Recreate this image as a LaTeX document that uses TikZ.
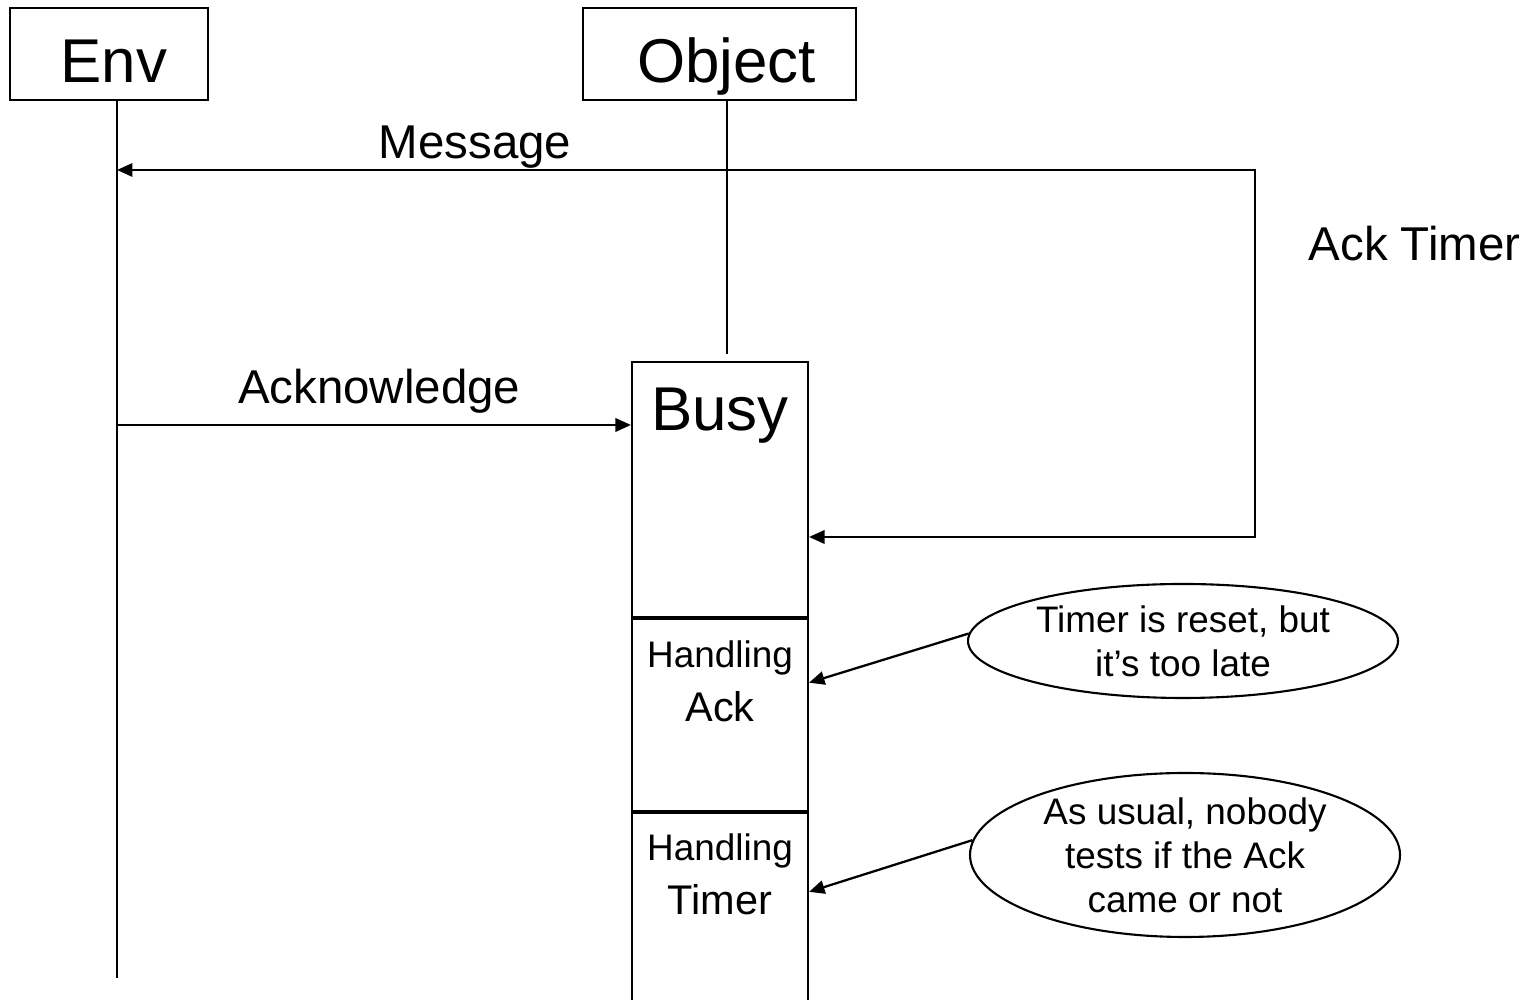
\documentclass[tikz,border=0pt]{standalone}
\usepackage{fontspec}
\setmainfont{Liberation Sans}
\usetikzlibrary{arrows.meta, shapes.geometric}

\tikzset{
  box/.style={draw, line width=0.6pt, inner sep=0pt},
  head/.style={box, minimum height=0.92cm, text height=19pt, text depth=3pt,
    font=\fontsize{17.6}{21}\selectfont},
  act/.style={box, minimum width=1.76cm},
  msg/.style={-{Triangle[length=4.4pt, width=3.8pt]}, line width=0.65pt},
  lbl/.style={font=\fontsize{13.5}{16}\selectfont, inner sep=1pt},
  note/.style={draw, ellipse, line width=0.6pt, inner sep=0pt, align=center,
    font=\fontsize{10.5}{12.5}\selectfont},
}

\begin{document}
\begin{tikzpicture}
  \useasboundingbox (0,0) rectangle (15.31,10);

  % lifeline heads
  \node[head, minimum width=1.98cm] (env) at (1.09,9.46) {\hspace{0.1cm}Env};
  \node[head, minimum width=2.73cm] (obj) at (7.195,9.46) {\hspace{0.14cm}Object};

  \coordinate (envend) at (1.17,0.22);
  \coordinate (objline) at (7.27,6.46);
  \draw[line width=0.85pt] (env.south -| envend) -- (envend);
  \draw[line width=0.6pt] (obj.south -| objline) -- (objline);

  % activation of the object
  \node[act, minimum height=2.55cm] (busy) at (7.20,5.105) {};
  \node[act, minimum height=1.92cm, anchor=north] (hack) at (busy.south) {};
  \node[act, minimum height=2.05cm, anchor=north] (htimer) at (hack.south) {};

  \node[font=\fontsize{17.6}{21}\selectfont] (busylbl) at ([yshift=-0.55cm]busy.north) {Busy};
  \node[font=\fontsize{10.5}{12.5}\selectfont] (hack1) at ([yshift=-0.40cm]hack.north) {Handling};
  \node[font=\fontsize{11.8}{14}\selectfont] (hack2) at ([yshift=-0.89cm]hack.north) {Ack};
  \node[font=\fontsize{10.5}{12.5}\selectfont] (htimer1) at ([yshift=-0.39cm]htimer.north) {Handling};
  \node[font=\fontsize{11.8}{14}\selectfont] (htimer2) at ([yshift=-0.88cm]htimer.north) {Timer};

  % messages
  \coordinate (msgy) at (1.17,8.30);
  \coordinate (acky) at (1.17,5.75);
  \coordinate (turn) at (12.55,8.30);
  \coordinate (back) at (12.55,4.63);

  \draw[msg] (objline |- msgy) -- (msgy) node[lbl, pos=0.413, above=-0.8pt] {Message};
  \draw[msg] (acky) -- (acky -| busy.west) node[lbl, pos=0.51, above=2pt] {Acknowledge};
  \draw[msg] (objline |- turn) -- (turn) -- (back)
    node[lbl, pos=0.2, right=0.49cm] {Ack Timer} -- (back -| busy.east);

  % comments
  \node[note, minimum width=4.3cm, minimum height=1.14cm] (late) at (11.83,3.59)
    {Timer is reset, but\\it's too late};
  \node[note, minimum width=4.3cm, minimum height=1.64cm, inner ysep=-2pt] (usual) at (11.85,1.45)
    {As usual, nobody\\tests if the Ack\\came or not};
  \draw[msg] (late.178) -- (hack.20);
  \draw[msg] (usual.176) -- (htimer.15);
\end{tikzpicture}
\end{document}
